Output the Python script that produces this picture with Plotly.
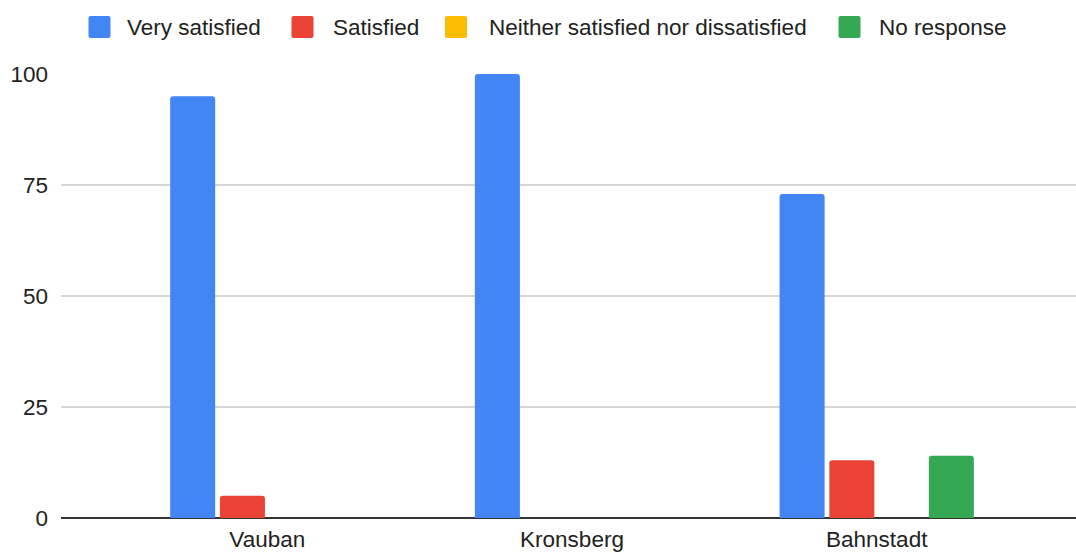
import plotly.graph_objects as go

# Survey: satisfaction with the neighbourhood (%)
neighbourhoods = ["Vauban", "Kronsberg", "Bahnstadt"]
series_names = ["Very satisfied", "Satisfied", "Neither satisfied nor dissatisfied", "No response"]
very_satisfied = [95, 100, 73]
satisfied = [5, 0, 13]
neither = [0, 0, 0]
no_response = [0, 0, 14]
y_ticks = [0, 25, 50, 75, 100]

series_values = [very_satisfied, satisfied, neither, no_response]
colors = ["#4285F4", "#EA4335", "#FBBC04", "#34A853"]

FONT = "Liberation Sans, Arial, sans-serif"
FS = 22.5
TEXT = "#222222"
W, H = 1076, 552
M_L, M_R, M_T, M_B = 61, 0, 74, 34

fig = go.Figure()
for name, vals, col in zip(series_names, series_values, colors):
    fig.add_trace(go.Bar(
        x=neighbourhoods, y=vals, name=name,
        marker=dict(color=col, cornerradius=3, line=dict(width=0)),
        showlegend=False,
    ))

# Custom legend row above the plot (larger rounded swatches)
plot_w = W - M_L - M_R
plot_h = H - M_T - M_B


def px_x(px):
    return (px - M_L) / plot_w


def px_y(py):
    return (H - M_B - py) / plot_h


legend_swatch_px = [99.5, 302.5, 456, 849.5]
legend_text_px = [125, 331, 487, 877]
legend_y = px_y(27)
sq = 11
r = 2
swatch_path = (f"M{-sq + r},{-sq} H{sq - r} Q{sq},{-sq} {sq},{-sq + r} "
               f"V{sq - r} Q{sq},{sq} {sq - r},{sq} H{-sq + r} "
               f"Q{-sq},{sq} {-sq},{sq - r} V{-sq + r} Q{-sq},{-sq} {-sq + r},{-sq} Z")
shapes = []
annotations = []
for name, col, sx, tx in zip(series_names, colors, legend_swatch_px, legend_text_px):
    shapes.append(dict(
        type="path", xref="paper", yref="paper",
        xsizemode="pixel", ysizemode="pixel",
        xanchor=px_x(sx), yanchor=legend_y,
        path=swatch_path, fillcolor=col, line=dict(width=0),
    ))
    annotations.append(dict(
        xref="paper", yref="paper", x=px_x(tx), y=legend_y,
        xanchor="left", yanchor="middle", text=name, showarrow=False,
        font=dict(family=FONT, size=FS, color=TEXT),
    ))

fig.update_layout(
    width=W, height=H,
    margin=dict(l=M_L, r=M_R, t=M_T, b=M_B),
    paper_bgcolor="white", plot_bgcolor="white",
    barmode="group", bargap=0.347, bargroupgap=0.095,
    font=dict(family=FONT, size=FS, color=TEXT),
    shapes=shapes, annotations=annotations,
)
fig.update_xaxes(
    range=[-0.677, 2.654], showgrid=False, zeroline=False, showline=False,
    ticks="", ticklabelstandoff=5,
    tickfont=dict(family=FONT, size=FS, color=TEXT),
)
fig.update_yaxes(
    range=[0, 100], tickvals=y_ticks, showgrid=True,
    gridcolor="#d6d6d6", gridwidth=1.5,
    zeroline=True, zerolinecolor="#333333", zerolinewidth=2,
    showline=False, ticks="", ticklabelstandoff=12,
    tickfont=dict(family=FONT, size=FS, color=TEXT),
)

fig.write_html("out.html")
